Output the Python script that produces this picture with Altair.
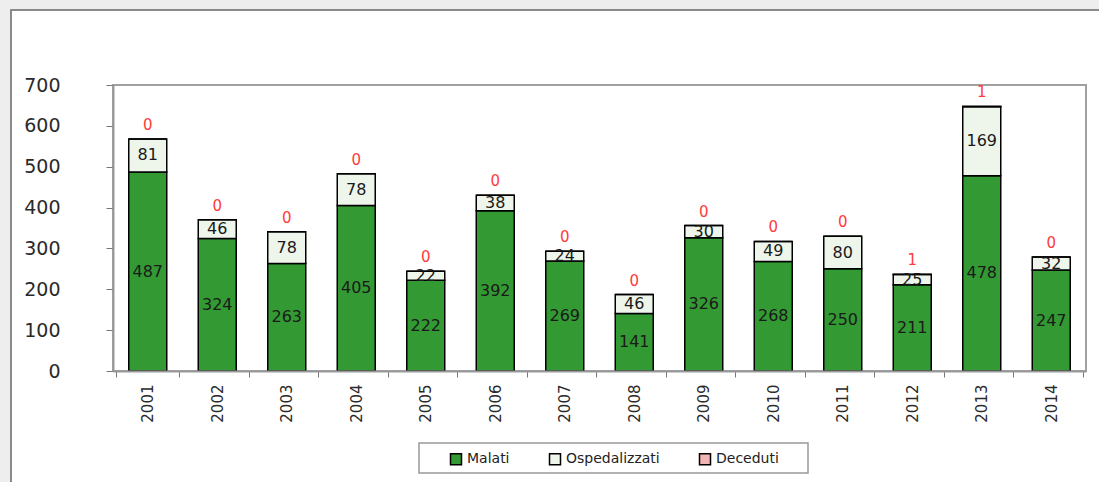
import altair as alt
import pandas as pd

# Cases per year, split by outcome
anni = [str(a) for a in range(2001, 2015)]
malati = [487, 324, 263, 405, 222, 392, 269, 141, 326, 268, 250, 211, 478, 247]
ospedalizzati = [81, 46, 78, 78, 22, 38, 24, 46, 30, 49, 80, 25, 169, 32]
deceduti = [0, 0, 0, 0, 0, 0, 0, 0, 0, 0, 0, 1, 1, 0]

serie = ["Malati", "Ospedalizzati", "Deceduti"]
colori = ["#339933", "#eef6ec", "#f2b5b5"]

# Long table with explicit stacking bounds for each segment
righe = []
for i, anno in enumerate(anni):
    base = 0
    for k, (nome, valori) in enumerate(zip(serie, [malati, ospedalizzati, deceduti])):
        v = valori[i]
        righe.append(dict(anno=anno, serie=nome, ordine=k, valore=v,
                          y0=base, y1=base + v, mid=base + v / 2))
        base += v
df = pd.DataFrame(righe)

FONT = "DejaVu Sans"
W, H = 973, 286

x_enc = alt.X(
    "anno:N",
    sort=anni,
    title=None,
    axis=alt.Axis(labelAngle=-90, labelFontSize=15, labelFont=FONT, labelColor="#2a2a2a",
                  tickBand="extent", tickSize=6, tickColor="#777777", labelPadding=7,
                  domainColor="#999999", domainWidth=2, zindex=1),
)
y_scale = alt.Scale(domain=[0, 700])

# Outer white panel with grey border
cornice = alt.Chart(alt.Data(values=[{}])).mark_rect(
    fill="white", stroke="#8a8a8a", strokeWidth=2
).encode(x=alt.value(-102), x2=alt.value(1000), y=alt.value(-75), y2=alt.value(420))

# Plot-area border
bordo = alt.Chart(alt.Data(values=[{}])).mark_rect(
    fill="white", stroke="#a0a0a0", strokeWidth=2
).encode(x=alt.value(0), x2=alt.value(W), y=alt.value(0), y2=alt.value(H))

# Legend frame
riquadro = alt.Chart(alt.Data(values=[{}])).mark_rect(
    fill="white", stroke="#999999", strokeWidth=1.5
).encode(x=alt.value(306), x2=alt.value(695), y=alt.value(358), y2=alt.value(388))

barre = alt.Chart(df).mark_bar(size=38, stroke="black", strokeWidth=1.5).encode(
    x=x_enc,
    y=alt.Y("y0:Q", scale=y_scale, title=None,
            axis=alt.Axis(values=[0, 100, 200, 300, 400, 500, 600, 700], grid=False,
                          tickSize=7, tickColor="#777777", labelPadding=46,
                          labelFontSize=19, labelFont=FONT, labelColor="#2a2a2a",
                          domainColor="#999999", domainWidth=2, zindex=1)),
    y2="y1:Q",
    color=alt.Color("serie:N", scale=alt.Scale(domain=serie, range=colori),
                    legend=alt.Legend(orient="none", legendX=336, legendY=367,
                                      direction="horizontal", title=None,
                                      symbolType="square", symbolSize=121,
                                      symbolStrokeColor="black", symbolStrokeWidth=1.5,
                                      labelFontSize=14, labelFont=FONT, labelColor="#222222",
                                      columnPadding=36, labelOffset=4, padding=0, zindex=1)),
    order=alt.Order("ordine:Q"),
)

etichette = alt.Chart(df).transform_filter(
    alt.datum.serie != "Deceduti"
).mark_text(fontSize=16, font=FONT, color="#1a1a1a", baseline="middle").encode(
    x=x_enc, y=alt.Y("mid:Q", scale=y_scale), text="valore:Q"
)

morti = alt.Chart(df).transform_filter(
    alt.datum.serie == "Deceduti"
).mark_text(fontSize=15, font=FONT, color="#ff3b3b", baseline="bottom", dy=-6).encode(
    x=x_enc, y=alt.Y("y1:Q", scale=y_scale), text="valore:Q"
)

chart = alt.layer(cornice, bordo, riquadro, barre, etichette, morti).properties(
    width=W, height=H,
    padding={"left": 113, "top": 85, "right": 13, "bottom": 111},
    autosize=alt.AutoSizeParams(type="none"),
    background="#eeeeee",
).configure_view(stroke=None)

chart.save("out.html", embed_options={"renderer": "svg", "actions": False})
